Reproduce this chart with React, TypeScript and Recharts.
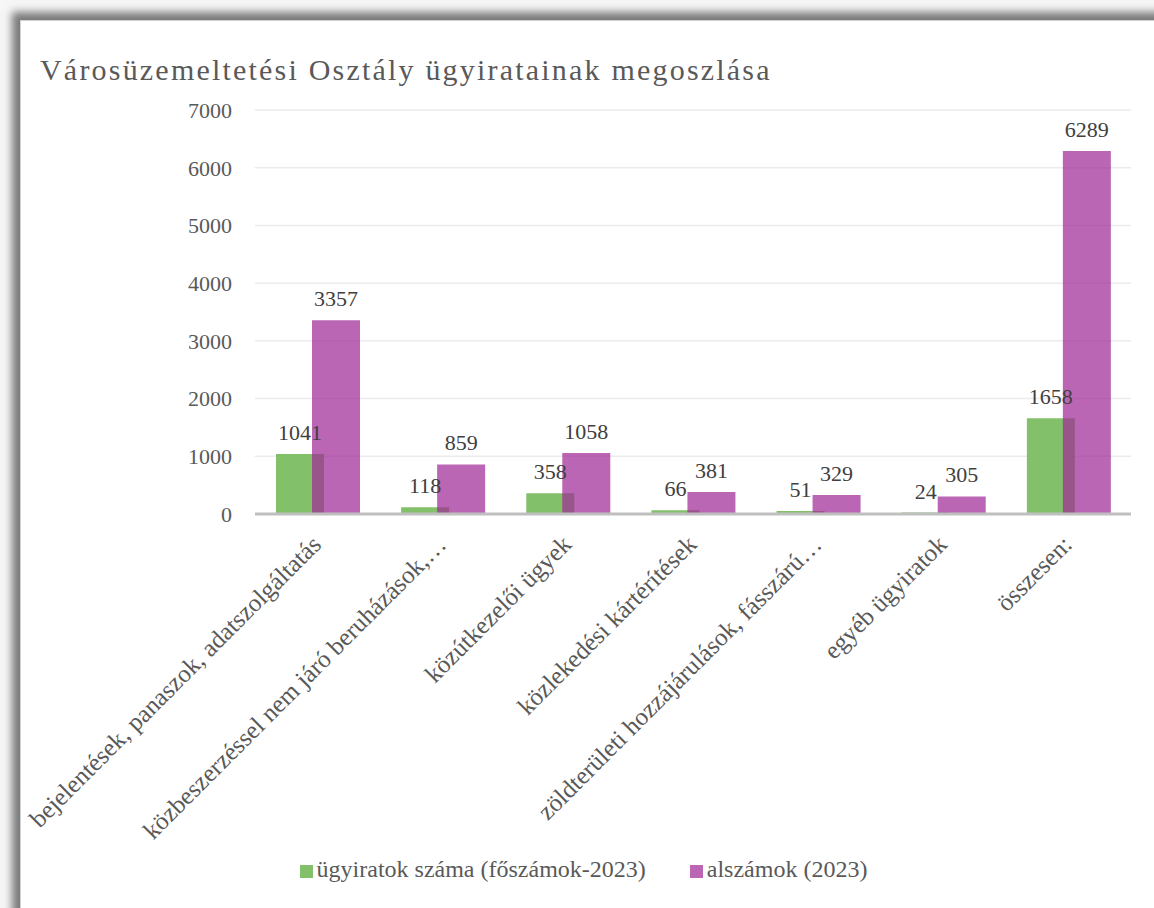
import { BarChart, Bar, XAxis, YAxis, CartesianGrid, Legend, LabelList } from 'recharts'

const categories = [
  'bejelentések, panaszok, adatszolgáltatás',
  'közbeszerzéssel nem járó beruházások,…',
  'közútkezelői ügyek',
  'közlekedési kártérítések',
  'zöldterületi hozzájárulások, fásszárú…',
  'egyéb ügyiratok',
  'összesen:'
]
const foszamok = [1041, 118, 358, 66, 51, 24, 1658]
const alszamok = [3357, 859, 1058, 381, 329, 305, 6289]
const yTicks = [0, 1000, 2000, 3000, 4000, 5000, 6000, 7000]

const data = categories.map((name, i) => ({
  name,
  foszamok: foszamok[i],
  alszamok: alszamok[i]
}))

const FONT = '"Liberation Serif", "Times New Roman", serif'
const TEXT = '#595959'

function CategoryTick({ x, y, payload }: any): JSX.Element {
  return (
    <g transform={`translate(${x + 5},${y + 32})`}>
      <text
        x={0}
        y={0}
        textAnchor="end"
        transform="rotate(-45)"
        fill={TEXT}
        fontSize={25}
        fontFamily={FONT}
      >
        {payload.value}
      </text>
    </g>
  )
}

const legendOrder = (item: any) => (item.dataKey === 'foszamok' ? 0 : 1)

function App(): JSX.Element {
  return (
    <div
      style={{
        position: 'absolute',
        left: 0,
        top: 0,
        width: 1154,
        height: 908,
        overflow: 'hidden',
        background: '#f6f6f6'
      }}
    >
      <div
        style={{
          position: 'absolute',
          left: 20,
          top: 20,
          width: 1300,
          height: 1100,
          background: '#ffffff',
          border: '1px solid #d0d0d0',
          boxShadow: '-5px -5px 8px 3px rgba(0,0,0,0.5)'
        }}
      />
      <div
        style={{
          position: 'absolute',
          left: 40,
          top: 53,
          fontFamily: FONT,
          fontSize: 30,
          letterSpacing: 2.2,
          color: TEXT,
          whiteSpace: 'nowrap'
        }}
      >
        Városüzemeltetési Osztály ügyiratainak megoszlása
      </div>
      <div style={{ position: 'absolute', left: 0, top: 0 }}>
        <BarChart
          width={1154}
          height={908}
          data={data}
          margin={{ top: 110, right: 23, left: 195, bottom: 22 }}
          barSize={48}
          barGap={-12}
        >
          <CartesianGrid vertical={false} stroke="#ebebeb" strokeWidth={1.5} />
          <XAxis
            dataKey="name"
            interval={0}
            height={342}
            tickLine={false}
            tickSize={0}
            tickMargin={0}
            axisLine={{ stroke: '#bfbfbf', strokeWidth: 3 }}
            tick={<CategoryTick />}
          />
          <YAxis
            width={60}
            domain={[0, 7000]}
            ticks={yTicks}
            interval={0}
            axisLine={false}
            tickLine={false}
            tickSize={0}
            tickMargin={23}
            tick={{ fill: TEXT, fontSize: 22, fontFamily: FONT }}
          />
          <Legend
            verticalAlign="bottom"
            align="center"
            iconType="square"
            iconSize={13}
            itemSorter={legendOrder}
            wrapperStyle={{ left: 0, width: 1211, height: 30, fontFamily: FONT, fontSize: 24 }}
            formatter={(value: string) => (
              <span style={{ color: TEXT, marginRight: 34 }}>{value}</span>
            )}
          />
          <Bar
            dataKey="foszamok"
            name="ügyiratok száma (főszámok-2023)"
            fill="#82c06a"
            isAnimationActive={false}
          >
            <LabelList
              dataKey="foszamok"
              position="top"
              offset={14}
              fill="#404040"
              fontSize={22}
              fontFamily={FONT}
            />
          </Bar>
          <Bar
            dataKey="alszamok"
            name="alszámok (2023)"
            fill="rgba(160,43,151,0.72)"
            isAnimationActive={false}
          >
            <LabelList
              dataKey="alszamok"
              position="top"
              offset={14}
              fill="#404040"
              fontSize={22}
              fontFamily={FONT}
            />
          </Bar>
        </BarChart>
      </div>
    </div>
  )
}

export default App
